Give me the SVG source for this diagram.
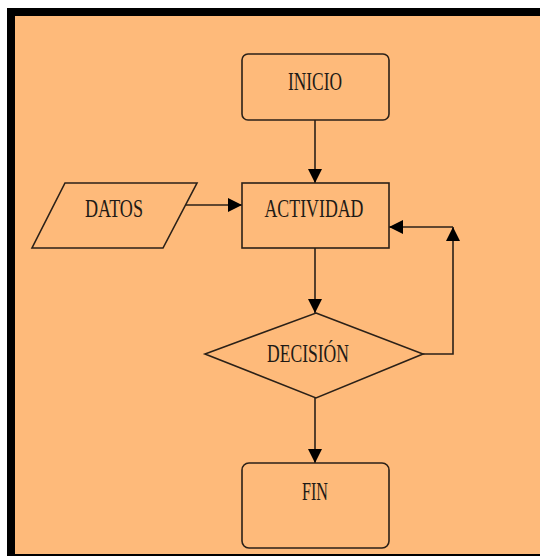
<svg xmlns="http://www.w3.org/2000/svg" width="540" height="556" viewBox="0 0 540 556">
<style>
.shape{fill:none;stroke:#2b2118;stroke-width:1.6}
.lbl{font-family:"Liberation Serif","Times New Roman",serif;font-size:25px;fill:#1e1a16;text-anchor:middle}
.conn{fill:none;stroke:#2b2118;stroke-width:1.6}
</style>
<defs>
<marker id="arr" markerUnits="userSpaceOnUse" markerWidth="16" markerHeight="14" refX="14" refY="7" orient="auto">
<path d="M0,0 L14,7 L0,14 z" fill="#000"/>
</marker>
</defs>
<rect x="0" y="0" width="540" height="556" fill="#fff"/>
<rect x="7" y="8" width="533" height="548" fill="#000"/>
<rect x="15" y="16" width="525" height="538" fill="#FEBA7A"/>
<g id="connectors">
<line class="conn" x1="315" y1="120" x2="315" y2="183" marker-end="url(#arr)"/>
<line class="conn" x1="186" y1="205" x2="242" y2="205" marker-end="url(#arr)"/>
<line class="conn" x1="315" y1="248" x2="315" y2="313" marker-end="url(#arr)"/>
<line class="conn" x1="315" y1="398" x2="315" y2="463" marker-end="url(#arr)"/>
<polyline class="conn" points="423,354 453,354 453,227" marker-end="url(#arr)"/>
<line class="conn" x1="453" y1="227" x2="389" y2="227" marker-end="url(#arr)"/>
</g>
<g id="inicio">
<rect class="shape" x="242" y="54" width="147" height="66" rx="6"/>
<text class="lbl" x="315" y="90" textLength="54" lengthAdjust="spacingAndGlyphs">INICIO</text>
</g>
<g id="datos">
<polygon class="shape" points="65,183 197,183 163,248 32,248"/>
<text class="lbl" x="114" y="217" textLength="58" lengthAdjust="spacingAndGlyphs">DATOS</text>
</g>
<g id="actividad">
<rect class="shape" x="242" y="183" width="147" height="65"/>
<text class="lbl" x="314" y="217" textLength="99" lengthAdjust="spacingAndGlyphs">ACTIVIDAD</text>
</g>
<g id="decision">
<polygon class="shape" points="316,313 423,354 316,398 205,354"/>
<text class="lbl" x="308" y="362" textLength="82" lengthAdjust="spacingAndGlyphs">DECISIÓN</text>
</g>
<g id="fin">
<rect class="shape" x="242" y="463" width="147" height="85" rx="7"/>
<text class="lbl" x="315" y="500" textLength="26" lengthAdjust="spacingAndGlyphs">FIN</text>
</g>
</svg>
